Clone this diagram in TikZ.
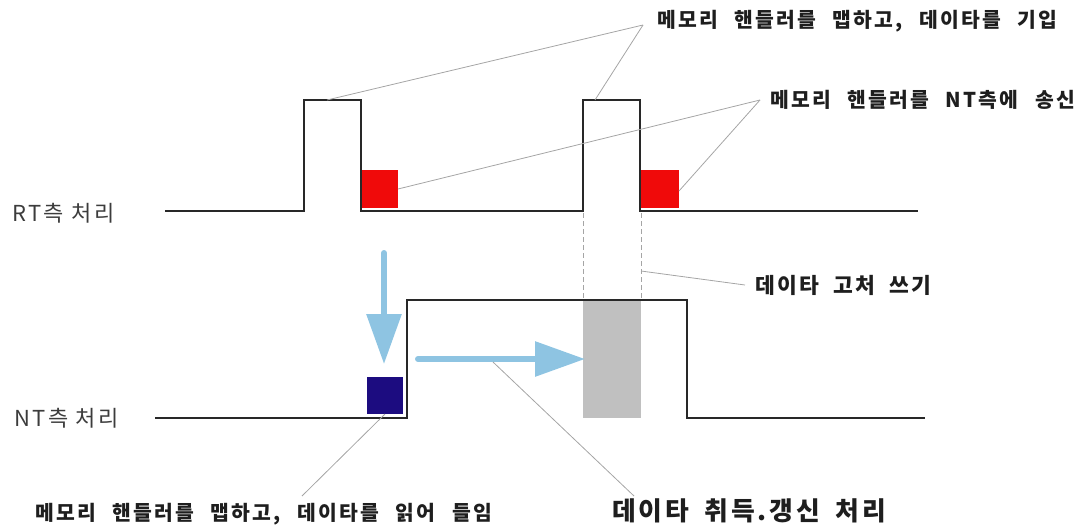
\documentclass[tikz,border=0pt]{standalone}
\usepackage{fontspec}
\usetikzlibrary{arrows.meta}
\newfontfamily\kfont[LetterSpace=11]{Noto Sans CJK KR}
\newfontfamily\lfont[LetterSpace=11]{Noto Sans CJK KR}
\newcommand\notefontA{\kfont\bfseries\fontsize{20.4}{24}\selectfont\setlength{\spaceskip}{16.5pt}}
\newcommand\notefontB{\kfont\bfseries\fontsize{21.5}{25}\selectfont\setlength{\spaceskip}{14pt}}
\newcommand\notefontC{\kfont\bfseries\fontsize{25.8}{30}\selectfont\setlength{\spaceskip}{15.5pt}}
\definecolor{wave}{RGB}{40,40,40}
\definecolor{leader}{RGB}{165,165,165}
\definecolor{flow}{RGB}{142,196,226}
\definecolor{sendred}{RGB}{240,10,10}
\definecolor{navy}{RGB}{28,12,128}
\definecolor{shade}{RGB}{192,192,192}
\definecolor{txt}{RGB}{30,30,30}
\definecolor{lbl}{RGB}{60,60,60}
\tikzset{
  wavepath/.style={draw=wave,line width=2.8pt,line join=miter},
  leaderline/.style={draw=leader,line width=0.8pt},
  guide/.style={draw=leader,line width=0.8pt,dash pattern=on 5pt off 3pt},
  block/.style={draw=none,inner sep=0pt,outer sep=0pt},
  flowarrow/.style={draw=flow,line width=6pt,line cap=round,-{Triangle[length=50pt,width=34pt]}},
  note/.style={inner sep=0pt,anchor=west,text=txt,font=\notefontA},
  rowlabel/.style={inner sep=0pt,anchor=west,text=lbl,font=\lfont\fontsize{22}{26}\selectfont}
}
\begin{document}
\begin{tikzpicture}[x=1pt,y=-1pt]
\useasboundingbox (0,0) rectangle (1086,528);
% blocks
\node[block,fill=sendred,minimum width=37pt,minimum height=38pt,anchor=north west] (red1) at (361,170) {};
\node[block,fill=sendred,minimum width=39pt,minimum height=38pt,anchor=north west] (red2) at (640,170) {};
\node[block,fill=navy,minimum width=36pt,minimum height=37pt,anchor=north west] (navy) at (367,377) {};
\node[block,fill=shade,minimum width=58pt,minimum height=118pt,anchor=north west] (gray) at (583,300) {};
% guides
\coordinate (g1) at (583,213);
\coordinate (g2) at (641,213);
\draw[guide] (g1) -- (gray.north west);
\draw[guide] (g2) -- (gray.north east);
% waveforms
\draw[wavepath] (165,211) -- (304,211) -- (304,100) -- (361,100) -- (361,211) -- (583,211) -- (583,100) -- (640,100) -- (640,211) -- (918,211);
\draw[wavepath] (155,418) -- (407,418) -- (407,300) -- (687,300) -- (687,418) -- (925,418);
% arrows
\coordinate (da1) at (384,253);
\coordinate (da2) at (384,364);
\coordinate (ra1) at (418,359);
\coordinate (ra2) at (585,359);
\draw[flowarrow] (da1) -- (da2);
\draw[flowarrow] (ra1) -- (ra2);
% labels
\node[rowlabel] (rt) at (12,213) {RT측 처리};
\node[rowlabel] (nt) at (14,418) {NT측 처리};
\node[note] (t1) at (657,21) {메모리 핸들러를 맵하고, 데이타를 기입};
\node[note] (t2) at (770,100) {메모리 핸들러를 NT측에 송신};
\node[note,font=\notefontB] (t3) at (755,285) {데이타 고처 쓰기};
\node[note] (t4) at (35,514) {메모리 핸들러를 맵하고, 데이타를 읽어 들임};
\node[note,font=\notefontC] (t5) at (612,511) {데이타 취득.갱신 처리};
% leaders
\coordinate (c1) at (643,25);
\coordinate (p1) at (327,100);
\coordinate (p2) at (595,100);
\draw[leaderline] (c1) -- (p1);
\draw[leaderline] (c1) -- (p2);
\coordinate (c2) at (760,100);
\draw[leaderline] (c2) -- (red1.east);
\draw[leaderline] (c2) -- ([yshift=-2pt]red2.east);
\coordinate (c3) at (745,285);
\coordinate (w1) at (641,271);
\draw[leaderline] (c3) -- (w1);
\coordinate (c4) at (302,496);
\draw[leaderline] (navy.south) -- (c4);
\coordinate (c5) at (634,496);
\coordinate (a5) at (493,362);
\draw[leaderline] (a5) -- (c5);
\end{tikzpicture}
\end{document}
